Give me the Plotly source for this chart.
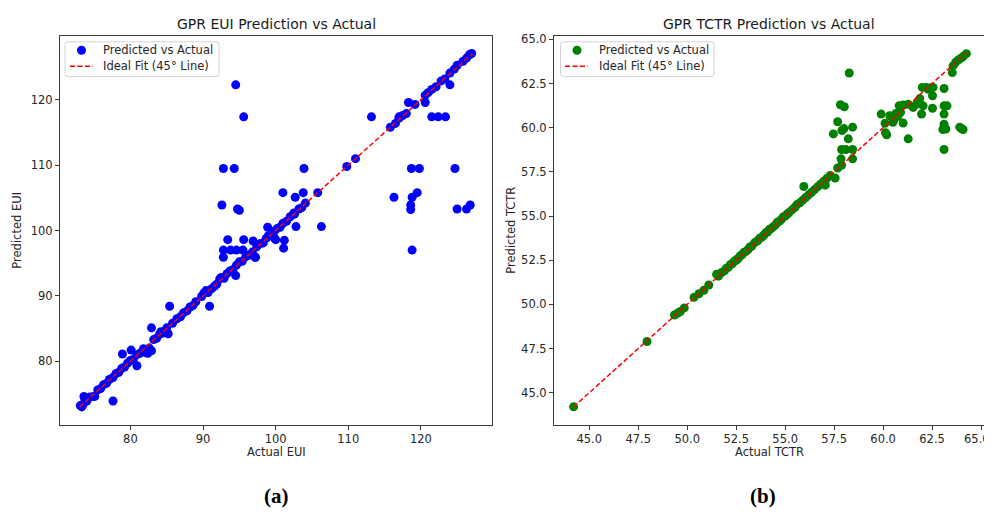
import plotly.graph_objects as go

# ---------------- data: EUI (panel a) ----------------
eui_actual = [
    73.1, 73.3, 73.5, 73.6, 73.7, 74.0, 74.4, 74.9, 75.1, 75.5, 75.9, 76.3, 76.7, 77.1, 77.6, 77.6,
    78.0, 78.4, 78.8, 78.9, 79.2, 79.6, 80.0, 80.1, 80.4, 80.9, 80.9, 81.3, 81.8, 82.1, 82.4, 82.6,
    82.9, 82.9, 83.2, 83.6, 84.0, 84.2, 84.5, 85.0, 85.2, 85.4, 85.8, 86.4, 86.9, 87.3, 87.8, 88.2,
    88.6, 89.0, 89.8, 90.1, 90.4, 90.7, 90.9, 91.2, 91.6, 91.9, 92.3, 92.5, 92.9, 93.3, 93.7, 94.1,
    94.5, 94.6, 95.0, 95.4, 95.9, 96.3, 96.8, 97.2, 97.4, 97.9, 98.3, 98.7, 99.0, 99.4, 99.8, 99.8,
    100.2, 100.6, 101.0, 101.5, 102.0, 102.5, 102.6, 103.2, 103.6, 104.1, 105.8, 109.8, 111.0, 115.8,
    116.5, 117.0, 117.5, 118.0, 119.2, 120.6, 121.0, 121.5, 122.1, 122.8, 123.3, 124.0, 124.6, 125.0,
    125.8, 126.3, 126.7, 127.0,
    94.5, 95.6, 113.2, 118.3, 120.6, 124.0, 121.5, 122.4, 123.4, 117.0, 92.8, 94.3, 103.9, 118.7,
    119.8, 124.7, 101.0, 103.8, 116.3, 118.8, 119.5, 92.6, 94.75, 95.0, 118.6, 118.6, 125.0, 126.3,
    126.8, 102.7, 102.8, 106.3, 98.9, 93.4, 95.6, 101.2, 92.8, 93.8, 94.6, 95.5, 101.1, 92.8, 97.2,
    100.0, 96.9, 118.8,
]
eui_pred = [
    73.2, 73.0, 73.4, 74.6, 74.3, 73.9, 74.5, 74.6, 74.6, 75.6, 75.8, 76.4, 76.6, 77.2, 77.5, 73.9,
    78.1, 78.3, 78.9, 81.1, 79.1, 79.7, 80.1, 81.7, 80.3, 81.0, 79.3, 81.2, 81.9, 81.3, 81.2, 82.0,
    81.6, 85.1, 83.3, 83.5, 84.1, 84.5, 84.3, 85.1, 84.2, 88.4, 85.8, 86.5, 86.8, 87.4, 87.7, 88.3,
    88.5, 89.1, 89.9, 90.4, 90.8, 90.5, 88.4, 91.1, 91.5, 91.8, 92.6, 92.8, 92.7, 93.4, 93.8, 94.0,
    93.1, 94.7, 95.2, 95.3, 96.0, 96.2, 96.7, 95.9, 97.5, 98.0, 98.1, 98.8, 99.2, 99.3, 98.9, 99.9,
    100.3, 100.5, 101.1, 101.4, 102.1, 102.7, 102.5, 103.3, 103.5, 104.2, 105.8, 109.8, 111.0, 115.8,
    116.4, 117.2, 117.6, 117.9, 119.3, 120.7, 121.1, 121.6, 122.0, 122.9, 123.2, 124.1, 124.7, 125.3,
    125.9, 126.4, 126.9, 127.1,
    122.3, 117.4, 117.4, 119.6, 119.6, 122.3, 117.4, 117.4, 117.4, 117.4, 109.5, 109.5, 109.5, 109.5,
    109.5, 109.5, 105.8, 105.8, 105.1, 105.1, 105.8, 103.9, 103.3, 103.1, 103.9, 103.2, 103.3, 103.3,
    103.9, 105.1, 100.6, 100.6, 100.5, 98.6, 98.6, 98.5, 97.0, 97.0, 97.0, 97.0, 97.3, 95.9, 95.9,
    98.6, 98.4, 97.0,
]

# ---------------- data: TCTR (panel b) ----------------
tctr_actual = [
    44.2, 47.95, 49.35, 49.5, 49.65, 49.85, 50.35, 50.6, 50.85, 51.1,
    51.5, 51.6, 51.75, 51.9, 52.0, 52.1, 52.2, 52.3, 52.4, 52.5, 52.6, 52.7, 52.8, 52.9, 53.0, 53.1,
    53.2, 53.3, 53.45, 53.6, 53.7, 53.8, 53.9, 54.0, 54.1, 54.2, 54.3, 54.4, 54.5, 54.6, 54.7, 54.8,
    54.9, 55.0, 55.1, 55.2, 55.35, 55.5, 55.6, 55.75, 55.9, 56.05, 56.2, 56.35, 56.5, 56.65, 56.8,
    56.95, 57.05, 57.12, 57.3, 57.55, 57.68, 57.88,
    55.95, 57.85, 58.44, 57.88, 58.1, 58.44, 58.22, 57.46, 57.9, 58.0, 58.44, 57.68, 57.82, 58.02,
    58.27,
    59.9, 60.1, 60.12, 60.18, 60.34, 60.5, 60.55, 60.65, 60.75, 60.89, 60.82, 61.02, 61.28, 61.02,
    61.28, 61.53, 61.7, 61.96, 62.04, 61.87, 62.0, 62.21, 62.3, 62.47, 62.55, 62.52, 62.52, 63.11,
    63.11, 63.26, 63.11, 63.11, 63.2, 63.05, 63.11, 63.53, 63.57, 63.91, 64.0, 64.08, 63.7, 63.85,
    64.0, 64.1, 64.25,
]
tctr_pred = [
    44.2, 47.9, 49.4, 49.5, 49.6, 49.8, 50.4, 50.6, 50.8, 51.1,
    51.7, 51.6, 51.8, 51.9, 52.05, 52.1, 52.25, 52.3, 52.45, 52.5, 52.6, 52.75, 52.8, 52.95, 53.0,
    53.1, 53.25, 53.3, 53.5, 53.6, 53.75, 53.8, 53.9, 54.05, 54.1, 54.25, 54.3, 54.4, 54.5, 54.65,
    54.7, 54.8, 54.95, 55.0, 55.1, 55.2, 55.35, 55.5, 55.65, 55.75, 55.9, 56.05, 56.2, 56.35, 56.5,
    56.65, 56.8, 56.95, 56.75, 57.12, 57.3, 57.15, 57.72, 57.87,
    56.67, 58.24, 58.24, 58.77, 58.77, 58.77, 59.37, 59.65, 59.84, 59.95, 60.03, 60.34, 61.3, 61.19,
    63.1,
    60.77, 60.25, 59.72, 59.6, 60.68, 60.31, 60.45, 60.8, 60.65, 60.87, 61.25, 61.28, 61.33, 60.27,
    59.37, 61.15, 61.34, 60.77, 61.24, 61.65, 62.28, 62.28, 62.18, 62.28, 62.28, 61.1, 61.81, 62.22,
    61.24, 61.24, 60.77, 60.2, 59.93, 59.9, 58.77, 63.12, 63.5, 60.03, 59.95, 59.9, 63.7, 63.85,
    63.95, 64.05, 64.19,
]

legend_labels = ["Predicted vs Actual", "Ideal Fit (45° Line)"]
tctr_edge_tick = "65.0"

# ---------------- figure ----------------
# the page places the figure 8px in from the top-left corner
OFF = 8
W, H = 992 - OFF, 514 - OFF
def px_x(p):
    return (p - OFF) / W
def px_y(p):
    return (H - (p - OFF)) / H

FONT = "DejaVu Sans"
fig = go.Figure()

eui_lo = min(min(eui_actual), min(eui_pred))
eui_hi = max(max(eui_actual), max(eui_pred))
tctr_lo = min(min(tctr_actual), min(tctr_pred))
tctr_hi = max(max(tctr_actual), max(tctr_pred))

DASH = "5px,2.5px"
fig.add_trace(go.Scatter(
    x=eui_actual, y=eui_pred, mode="markers", name=legend_labels[0],
    marker=dict(color="#0000ff", size=9, line=dict(width=0)),
    xaxis="x", yaxis="y"))
fig.add_trace(go.Scatter(
    x=[eui_lo, eui_hi], y=[eui_lo, eui_hi], mode="lines", name=legend_labels[1],
    line=dict(color="#ff0000", width=1.5, dash=DASH),
    xaxis="x", yaxis="y"))

fig.add_trace(go.Scatter(
    x=tctr_actual, y=tctr_pred, mode="markers", name=legend_labels[0],
    marker=dict(color="#008000", size=9, line=dict(width=0)),
    xaxis="x2", yaxis="y2"))
fig.add_trace(go.Scatter(
    x=[tctr_lo, tctr_hi], y=[tctr_lo, tctr_hi], mode="lines", name=legend_labels[1],
    line=dict(color="#ff0000", width=1.5, dash=DASH),
    xaxis="x2", yaxis="y2"))

axis_common = dict(
    showgrid=False, zeroline=False, showline=True, mirror=True,
    linecolor="#3a3a3a", linewidth=1, ticks="outside", ticklen=4,
    tickcolor="#3a3a3a", tickwidth=1,
    tickfont=dict(family=FONT, size=11.5, color="#262626"),
)

ydom = [px_y(424), px_y(33)]
fig.update_layout(
    width=W, height=H,
    margin=dict(l=0, r=0, t=0, b=0),
    paper_bgcolor="white", plot_bgcolor="white",
    showlegend=False,
    xaxis=dict(domain=[px_x(60), px_x(492)], range=[70.3, 129.8],
               tickvals=[80, 90, 100, 110, 120], anchor="y", **axis_common),
    yaxis=dict(domain=ydom, range=[70.3, 129.8],
               tickvals=[80, 90, 100, 110, 120], anchor="x", **axis_common),
    xaxis2=dict(domain=[px_x(554), px_x(985)], range=[43.2, 65.2],
                tick0=45, dtick=2.5, tickformat=".1f", anchor="y2", **axis_common),
    yaxis2=dict(domain=ydom, range=[43.2, 65.2],
                tick0=45, dtick=2.5, tickformat=".1f", anchor="x2", **axis_common),
)

def ann(text, x, y, size, angle=0, family=FONT, color="#262626", xanchor="center"):
    fig.add_annotation(text=text, x=px_x(x), y=px_y(y), xref="paper", yref="paper",
                       showarrow=False, textangle=angle, xanchor=xanchor, yanchor="middle",
                       font=dict(family=family, size=size, color=color))

# matplotlib-style legend boxes (drawn as layout decorations)
def legend_box(x0, x1, y0, y1, dot_x, line_x0, line_x1, text_x, row1, row2, color):
    r = 3
    X0, X1 = px_x(x0), px_x(x1)
    Y0, Y1 = px_y(y1), px_y(y0)
    rx, ry = r / W, r / H
    path = (f"M {X0+rx},{Y0} L {X1-rx},{Y0} Q {X1},{Y0} {X1},{Y0+ry} "
            f"L {X1},{Y1-ry} Q {X1},{Y1} {X1-rx},{Y1} L {X0+rx},{Y1} "
            f"Q {X0},{Y1} {X0},{Y1-ry} L {X0},{Y0+ry} Q {X0},{Y0} {X0+rx},{Y0} Z")
    fig.add_shape(type="path", path=path, xref="paper", yref="paper",
                  line=dict(color="#d3d3d3", width=1), fillcolor="rgba(255,255,255,0.85)",
                  layer="above")
    d = 4.5
    fig.add_shape(type="circle", xref="paper", yref="paper",
                  x0=px_x(dot_x - d), x1=px_x(dot_x + d), y0=px_y(row1 + d), y1=px_y(row1 - d),
                  fillcolor=color, line=dict(width=0), layer="above")
    fig.add_shape(type="line", xref="paper", yref="paper",
                  x0=px_x(line_x0), x1=px_x(line_x1), y0=px_y(row2), y1=px_y(row2),
                  line=dict(color="#ff0000", width=1.5, dash=DASH), layer="above")
    ann(legend_labels[0], text_x, row1, 11.5, xanchor="left")
    ann(legend_labels[1], text_x, row2, 11.5, xanchor="left")

legend_box(65, 219, 39, 74, 81.5, 70, 93, 101, 47.5, 63.5, "#0000ff")
legend_box(560.5, 714, 39, 74, 577, 565, 588, 597, 47.5, 63.5, "#008000")

# the last x tick label of panel (b) sits against the right edge of the page
ann(tctr_edge_tick, 991.5, 438.5, 11.5, xanchor="right")

ann("GPR EUI Prediction vs Actual", 276, 21, 14, color="#1a1a1a")
ann("GPR TCTR Prediction vs Actual", 769, 21, 14, color="#1a1a1a")
ann("Actual EUI", 276, 452, 11.5)
ann("Actual TCTR", 769, 452, 11.5)
ann("Predicted EUI", 17, 229, 11.5, angle=-90)
ann("Predicted TCTR", 511, 229, 11.5, angle=-90)
ann("<b>(a)</b>", 276, 496, 21, family="Liberation Serif", color="#000000")
ann("<b>(b)</b>", 763, 496, 21, family="Liberation Serif", color="#000000")

fig.write_html("out.html")
